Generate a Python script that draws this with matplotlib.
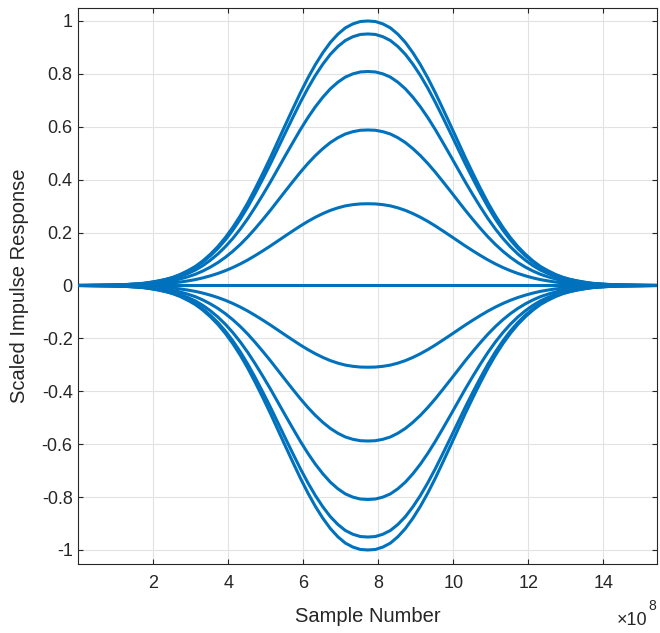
import matplotlib
matplotlib.use('Agg')
import matplotlib.pyplot as plt

# sample positions, in units of 1e8 samples
sample_x = [0, 0.52, 0.92, 1.32, 1.72, 1.92, 2.12, 2.32, 2.52, 2.72, 2.92, 3.12,
            3.32, 3.52, 3.72, 3.92, 4.12, 4.32, 4.52, 4.72, 4.92, 5.12, 5.32,
            5.52, 5.72, 5.92, 6.12, 6.32, 6.52, 6.72, 6.92, 7.12, 7.32, 7.52,
            7.72,
            7.92, 8.12, 8.32, 8.52, 8.72, 8.92, 9.12, 9.32, 9.52, 9.72, 9.92,
            10.12, 10.32, 10.52, 10.72, 10.92, 11.12, 11.32, 11.52, 11.72, 11.92,
            12.12, 12.32, 12.52, 12.72, 12.92, 13.12, 13.32, 13.52, 13.72, 14.12,
            14.52, 14.92, 15.42]
# unit impulse response
pulse = [0, 0.001, 0.002, 0.004, 0.008, 0.012, 0.017, 0.023, 0.031, 0.042, 0.056,
         0.072, 0.093, 0.118, 0.147, 0.181, 0.220, 0.264, 0.313, 0.367, 0.424,
         0.483, 0.545, 0.607, 0.668, 0.728, 0.784, 0.835, 0.880, 0.919, 0.950,
         0.974, 0.989, 0.998,
         1.0,
         0.998, 0.989, 0.974, 0.950, 0.919, 0.880, 0.835, 0.784, 0.728, 0.668,
         0.607, 0.545, 0.483, 0.424, 0.367, 0.313, 0.264, 0.220, 0.181, 0.147,
         0.118, 0.093, 0.072, 0.056, 0.042, 0.031, 0.023, 0.017, 0.012, 0.008,
         0.004, 0.002, 0.001, 0]
# scale factor of each curve
scales = [1.0, 0.951, 0.809, 0.588, 0.309, 0.0, -0.309, -0.588, -0.809, -0.951, -1.0]

x_ticks = [2, 4, 6, 8, 10, 12, 14]
y_ticks = [-1, -0.8, -0.6, -0.4, -0.2, 0, 0.2, 0.4, 0.6, 0.8, 1]
y_ticklabels = ['-1', '-0.8', '-0.6', '-0.4', '-0.2', '0', '0.2', '0.4', '0.6', '0.8', '1']

txt = '#262626'
plt.rcParams['font.family'] = ['Liberation Sans', 'DejaVu Sans']

fig = plt.figure(figsize=(6.6, 6.33), dpi=100)
ax = fig.add_axes([0.1186, 0.109, 0.8764, 0.8779])

for s in scales:
    ax.plot(sample_x, [s * p for p in pulse], color='#0072BD', linewidth=2.2,
            solid_joinstyle='round', solid_capstyle='butt', zorder=3)

ax.set_xlim(0.0001, 15.42)
ax.set_ylim(-1.053, 1.048)
ax.set_xticks(x_ticks)
ax.set_xticklabels([str(t) for t in x_ticks])
ax.set_yticks(y_ticks)
ax.set_yticklabels(y_ticklabels)

ax.grid(True, color='#e2e2e2', linewidth=0.8, zorder=0)
ax.set_axisbelow(True)
for sp in ax.spines.values():
    sp.set_color(txt)
    sp.set_linewidth(0.8)
ax.tick_params(direction='in', length=3.6, width=0.8, color=txt, labelcolor=txt,
               labelsize=13, top=True, right=True)
ax.tick_params(axis='x', pad=8)
ax.tick_params(axis='y', pad=4)

fig.text(0.5568, 0.018, 'Sample Number', ha='center', va='baseline', fontsize=14.5, color=txt)
fig.text(0.03, 0.5485, 'Scaled Impulse Response', ha='center', va='center',
         rotation=90, fontsize=14.5, color=txt)
fig.text(0.981, 0.013, '\u00d710', ha='right', va='baseline', fontsize=13, color=txt)
fig.text(0.982, 0.037, '8', ha='left', va='baseline', fontsize=10, color=txt)

fig.savefig('out.png', dpi=100)
